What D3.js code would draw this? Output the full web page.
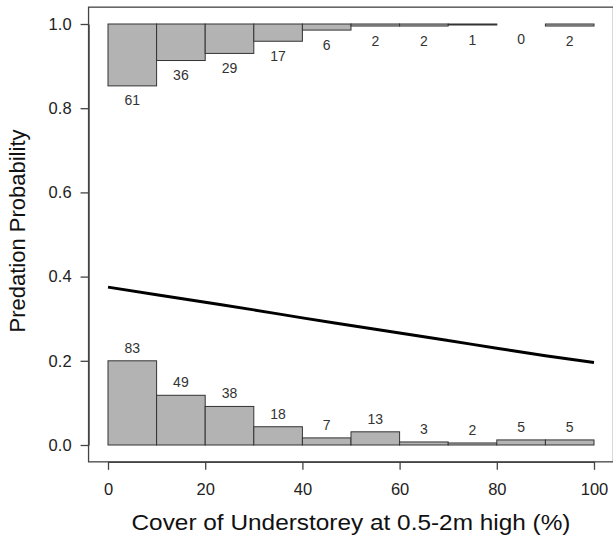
<!DOCTYPE html>
<html>
<head>
<meta charset="utf-8">
<script src="https://cdn.jsdelivr.net/npm/d3@7"></script>
<style>
  body { margin: 0; background: #fff; }
  svg { display: block; font-family: "Liberation Sans", Arial, sans-serif; }
</style>
</head>
<body>
<div class="container"></div>
<script>
// bins of understorey cover (%)
const binStarts = [0, 10, 20, 30, 40, 50, 60, 70, 80, 90];
const binWidth = 10;
// counts of predated nests (top) and not predated (bottom)
const countsPredated = [61, 36, 29, 17, 6, 2, 2, 1, 0, 2];
const countsSurvived = [83, 49, 38, 18, 7, 13, 3, 2, 5, 5];
// fitted curve
const curveX = [0, 10, 20, 30, 40, 50, 60, 70, 80, 90, 100];
const curveP = [0.375, 0.357, 0.339, 0.321, 0.302, 0.284, 0.266, 0.248, 0.230, 0.212, 0.196];
const xTicks = [0, 20, 40, 60, 80, 100];
const yTicks = [0, 0.2, 0.4, 0.6, 0.8, 1.0];

const w = 613;
const h = 540;
const maxBar = 0.2; // tallest bar reaches this probability

const svg = d3.select(".container")
              .append("svg")
              .attr("width", w)
              .attr("height", h);

const x = d3.scaleLinear().domain([0, 100]).range([108, 594]);
const y = d3.scaleLinear().domain([0, 1]).range([445, 24]);

const maxCount = d3.max(countsPredated.concat(countsSurvived));
const hScale = d3.scaleLinear().domain([0, maxCount]).range([0, maxBar]);

// plot box, R style 4% padding
svg.append("rect")
   .attr("x", x(-4))
   .attr("y", y(1.04))
   .attr("width", x(104) - x(-4))
   .attr("height", y(-0.04) - y(1.04))
   .attr("fill", "none")
   .attr("stroke", "#444")
   .attr("stroke-width", 1.3);

// bottom histogram
svg.selectAll("rect.low")
   .data(countsSurvived).enter()
   .append("rect")
   .attr("class", "low")
   .attr("x", (d, i) => x(binStarts[i]))
   .attr("width", x(binWidth) - x(0))
   .attr("y", (d) => y(hScale(d)))
   .attr("height", (d) => y(0) - y(hScale(d)))
   .attr("fill", "#b3b3b3")
   .attr("stroke", "#333")
   .attr("stroke-width", 1);

// top histogram, hanging down from 1
svg.selectAll("rect.high")
   .data(countsPredated).enter()
   .append("rect")
   .attr("class", "high")
   .attr("x", (d, i) => x(binStarts[i]))
   .attr("width", x(binWidth) - x(0))
   .attr("y", y(1))
   .attr("height", (d) => y(1 - hScale(d)) - y(1))
   .attr("fill", "#b3b3b3")
   .attr("stroke", (d) => d > 0 ? "#333" : "none")
   .attr("stroke-width", 1);

// count labels
svg.selectAll("text.lowlab")
   .data(countsSurvived).enter()
   .append("text")
   .attr("class", "lowlab")
   .attr("x", (d, i) => x(binStarts[i] + binWidth / 2))
   .attr("y", (d) => y(hScale(d)) - 8)
   .attr("text-anchor", "middle")
   .style("font-size", "14px")
   .style("fill", "#333")
   .text((d) => d);

svg.selectAll("text.highlab")
   .data(countsPredated).enter()
   .append("text")
   .attr("class", "highlab")
   .attr("x", (d, i) => x(binStarts[i] + binWidth / 2))
   .attr("y", (d) => y(1 - hScale(d)) + 19.5)
   .attr("text-anchor", "middle")
   .style("font-size", "14px")
   .style("fill", "#333")
   .text((d) => d);

// fitted line
const line = d3.line()
               .x((d, i) => x(curveX[i]))
               .y((d) => y(d))
               .curve(d3.curveMonotoneX);

svg.append("path")
   .datum(curveP)
   .attr("d", line)
   .attr("fill", "none")
   .attr("stroke", "#000")
   .attr("stroke-width", 3);

// axes
const xAxis = d3.axisBottom(x).tickValues(xTicks).tickFormat(d3.format("d"))
                .tickSize(8).tickSizeOuter(0).tickPadding(13);
const gx = svg.append("g")
              .attr("transform", `translate(0, ${y(-0.04)})`)
              .call(xAxis);

const yAxis = d3.axisLeft(y).tickValues(yTicks).tickFormat(d3.format(".1f"))
                .tickSize(8).tickSizeOuter(0).tickPadding(9);
const gy = svg.append("g")
              .attr("transform", `translate(${x(-4)}, 0)`)
              .call(yAxis);

[gx, gy].forEach((g) => {
  g.selectAll("path, line").attr("stroke", "#444").attr("stroke-width", 1.3);
  g.selectAll("text")
   .style("font-size", "16.5px")
   .style("font-family", '"Liberation Sans", Arial, sans-serif')
   .attr("fill", "#222");
});

// axis titles
svg.append("text")
   .attr("x", x(50))
   .attr("y", 530)
   .attr("text-anchor", "middle")
   .attr("textLength", 439)
   .attr("lengthAdjust", "spacingAndGlyphs")
   .style("font-size", "22.5px")
   .style("fill", "#111")
   .text("Cover of Understorey at 0.5-2m high (%)");

svg.append("text")
   .attr("transform", `translate(25, 231) rotate(-90)`)
   .attr("text-anchor", "middle")
   .style("font-size", "22px")
   .style("fill", "#111")
   .text("Predation Probability");
</script>
</body>
</html>
